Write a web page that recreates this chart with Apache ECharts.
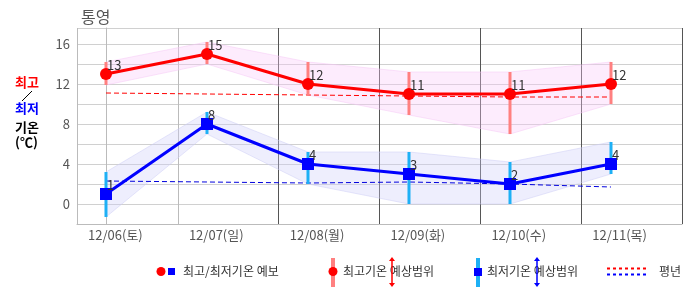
<!DOCTYPE html>
<html><head><meta charset="utf-8">
<script src="https://cdn.jsdelivr.net/npm/echarts@6/dist/echarts.min.js"></script>
<style>html,body{margin:0;padding:0;background:#fff}#c{width:686px;height:295px}</style>
</head><body><div id="c"></div>
<script>
const days = ['12/06(토)','12/07(일)','12/08(월)','12/09(화)','12/10(수)','12/11(목)'];
const highT = [13,15,12,11,11,12];
const lowT = [1,8,4,3,2,4];
const highMin = [11.9,14,10.9,8.9,7,10];
const highMax = [14.2,16.2,14.2,13.2,13.2,14.2];
const lowMin = [-1.3,7,2,0,0,3];
const lowMax = [3.2,9.2,5.2,5.2,4.2,6.2];
const highNorm = [11.1,11.0,10.9,10.8,10.7,10.7];
const lowNorm = [2.3,2.2,2.1,2.2,2.0,1.7];
const yTicks = [0,4,8,12,16];

const FONT = '"Noto Sans CJK KR", "Noto Sans", sans-serif';
const pts = a => a.map((v,i)=>[i,v]);
const rng = (lo,hi) => lo.map((v,i)=>[i,v,hi[i]]);

function rangeBar(color){
  return function(params, api){
    const x = api.value(0);
    const p1 = api.coord([x, api.value(1)]);
    const p2 = api.coord([x, api.value(2)]);
    return {type:'line', shape:{x1:p1[0],y1:p1[1],x2:p2[0],y2:p2[1]}, style:{stroke:color, lineWidth:3}};
  };
}
function band(lo, hi, fill, stroke){
  return function(params, api){
    if (params.dataIndex !== 0) return null;
    const top = hi.map((v,i)=>api.coord([i,v]));
    const bot = lo.map((v,i)=>api.coord([i,v])).reverse();
    return {type:'polygon', shape:{points:top.concat(bot)}, style:{fill:fill, stroke:stroke, lineWidth:1}};
  };
}

const lbl = {show:true, position:[7,-9], align:'left', verticalAlign:'top', color:'#333', fontSize:13, fontFamily:FONT};

function arrow(x, y1, y2, color){
  return [
    {type:'line', shape:{x1:x,y1:y1+3,x2:x,y2:y2-3}, style:{stroke:color, lineWidth:1.5}},
    {type:'polygon', shape:{points:[[x-3,y1+4],[x+3,y1+4],[x,y1]]}, style:{fill:color}},
    {type:'polygon', shape:{points:[[x-3,y2-4],[x+3,y2-4],[x,y2]]}, style:{fill:color}}
  ];
}
const txt = (x,y,t,fill,font,align) => ({type:'text', x:x, y:y, style:{text:t, fill:fill, font:font, align:align||'left', verticalAlign:'middle'}});

const chart = echarts.init(document.getElementById('c'));
chart.setOption({
  animation:false,
  title:{text:'통영', left:76, top:4, textStyle:{fontFamily:FONT, fontSize:16, fontWeight:'normal', color:'#555'}},
  grid:{left:77, top:28, width:605, height:196},
  xAxis:[
    {type:'value', min:-0.287, max:5.703, show:false},
    {type:'category', data:days, boundaryGap:true, position:'bottom',
     axisLine:{show:true, lineStyle:{color:'#bbb'}}, axisTick:{show:false},
     axisLabel:{color:'#555', fontSize:13, fontFamily:FONT, margin:5, padding:[0,24,0,0]},
     splitLine:{show:true, lineStyle:{color:['#bbb','#bbb','#555','#555','#555','#555','#555'], width:1}}}
  ],
  yAxis:{type:'value', min:-2, max:17.6, interval:2,
    axisLine:{show:true, lineStyle:{color:'#bbb'}}, axisTick:{show:false},
    axisLabel:{color:'#555', fontSize:13, fontFamily:FONT, margin:7,
      formatter:v => yTicks.indexOf(v) >= 0 ? String(v) : ''},
    splitLine:{lineStyle:{color:'#d0d0d0'}}},
  series:[
    {type:'custom', data:rng(highMin,highMax), renderItem:band(highMin,highMax,'rgba(250,200,250,0.35)','rgba(245,200,245,0.5)'), encode:{x:0,y:[1,2]}, silent:true, z:1},
    {type:'custom', data:rng(lowMin,lowMax), renderItem:band(lowMin,lowMax,'rgba(205,205,250,0.35)','rgba(205,205,245,0.5)'), encode:{x:0,y:[1,2]}, silent:true, z:1},
    {type:'line', data:pts(highNorm), symbol:'none', lineStyle:{color:'#ff0000', width:1, type:[5,3]}, z:2},
    {type:'line', data:pts(lowNorm), symbol:'none', lineStyle:{color:'#0000dd', width:1, type:[5,3]}, z:2},
    {type:'custom', data:rng(highMin,highMax), renderItem:rangeBar('#ff8080'), encode:{x:0,y:[1,2]}, z:3},
    {type:'custom', data:rng(lowMin,lowMax), renderItem:rangeBar('#1eb0f5'), encode:{x:0,y:[1,2]}, z:3},
    {type:'line', data:pts(highT), symbol:'circle', symbolSize:12, itemStyle:{color:'#ff0000'},
     lineStyle:{color:'#ff0000', width:3}, label:lbl, z:5},
    {type:'line', data:pts(lowT), symbol:'rect', symbolSize:12, itemStyle:{color:'#0000ff'},
     lineStyle:{color:'#0000ff', width:3}, label:lbl, z:5}
  ],
  graphic:[
    txt(15,82,'최고','#ff0000','bold 13px '+FONT),
    {type:'line', shape:{x1:22,y1:101,x2:32,y2:91}, style:{stroke:'#000', lineWidth:1}},
    txt(15,108,'최저','#0000ff','bold 13px '+FONT),
    txt(15,127,'기온','#000','bold 13px '+FONT),
    txt(15,142,'(℃)','#000','bold 13px '+FONT),
    {type:'circle', shape:{cx:161,cy:271.5,r:4.5}, style:{fill:'#ff0000'}},
    {type:'rect', shape:{x:168,y:268,width:7,height:7}, style:{fill:'#0000ff'}},
    txt(183,271,'최고/최저기온 예보','#333','12px '+FONT),
    {type:'rect', shape:{x:331,y:258,width:4,height:29}, style:{fill:'#ff8080'}},
    {type:'circle', shape:{cx:333,cy:271.5,r:4.5}, style:{fill:'#ff0000'}},
    txt(343,271,'최고기온 예상범위','#333','12px '+FONT),
    ...arrow(392,257,287,'#ff0000'),
    {type:'rect', shape:{x:476,y:258,width:4,height:29}, style:{fill:'#1eb0f5'}},
    {type:'rect', shape:{x:474,y:268,width:8,height:8}, style:{fill:'#0000ff'}},
    txt(487,271,'최저기온 예상범위','#333','12px '+FONT),
    ...arrow(537,257,287,'#0000ff'),
    {type:'line', shape:{x1:607,y1:268.5,x2:648,y2:268.5}, style:{stroke:'#ff0000', lineWidth:2, lineDash:[3,3]}},
    {type:'line', shape:{x1:607,y1:274.5,x2:648,y2:274.5}, style:{stroke:'#0000ff', lineWidth:2, lineDash:[3,3]}},
    txt(659,271,'평년','#333','12px '+FONT)
  ]
});
</script></body></html>
